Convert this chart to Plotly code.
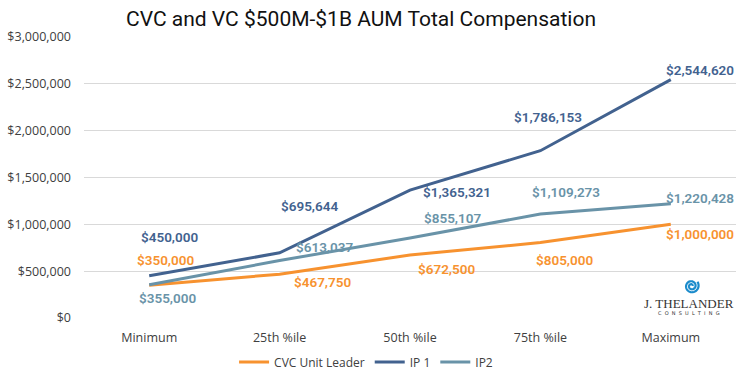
import numpy as np
import plotly.graph_objects as go

categories = ["Minimum", "25th %ile", "50th %ile", "75th %ile", "Maximum"]
cvc_unit_leader = [350000, 467750, 672500, 805000, 1000000]
ip1 = [450000, 695644, 1365321, 1786153, 2544620]
ip2 = [355000, 613037, 855107, 1109273, 1220428]
y_ticks = [0, 500000, 1000000, 1500000, 2000000, 2500000, 3000000]

# label offsets (pixels, screen: dx right, dy up)
cvc_off = [(16, 25), (43, -8), (36, -14), (24, -17), (29, -10)]
ip1_off = [(20, 39), (30, 47), (47, -2), (8, 34), (29, 10)]
ip2_off = [(18, -13), (45, 14), (42, 20), (26, 22), (29, 6)]

C_CVC = "#F7922F"
C_IP1 = "#42628F"
C_IP2 = "#6993A8"

W, H = 748, 374
L, R, T, B = 83.5, 11.5, 37, 56
pw, ph = W - L - R, H - T - B


def px_x(x):
    return (x - L) / pw


def px_y(y):
    return (H - B - y) / ph


fig = go.Figure()
series = [("CVC Unit Leader", cvc_unit_leader, C_CVC, cvc_off),
          ("IP 1", ip1, C_IP1, ip1_off),
          ("IP2", ip2, C_IP2, ip2_off)]
for name, vals, col, _ in series:
    fig.add_trace(go.Scatter(x=categories, y=vals, mode="lines", name=name,
                             line=dict(color=col, width=3)))

annotations = []
for name, vals, col, offs in series:
    for c, v, (dx, dy) in zip(categories, vals, offs):
        annotations.append(dict(x=c, y=v, xref="x", yref="y", text=f"${v:,.0f}",
                                showarrow=False, xshift=dx, yshift=dy,
                                font=dict(family="Roboto", size=13.5, color=col, weight=600)))

# logo text
annotations.append(dict(x=px_x(689), y=px_y(303), xref="paper", yref="paper", text="J. THELANDER",
                        xanchor="center", yanchor="middle",
                        showarrow=False, font=dict(family="Liberation Serif", size=13, color="#333333")))
annotations.append(dict(x=px_x(689), y=px_y(313), xref="paper", yref="paper",
                        text="C  O  N  S  U  L  T  I  N  G", xanchor="center", yanchor="middle",
                        showarrow=False, font=dict(family="DejaVu Sans", size=5, color="#333333")))

# spiral logo as path
t = np.linspace(0, 4.2 * np.pi, 80)
r = 1.0 + 1.5 * t / np.pi
xs = r * np.cos(t)
ys = r * np.sin(t)
path = "M " + " L ".join(f"{x:.2f},{y:.2f}" for x, y in zip(xs, ys))
shapes = [dict(type="path", path=path, xref="paper", yref="paper",
               xsizemode="pixel", ysizemode="pixel",
               xanchor=px_x(692), yanchor=px_y(286),
               line=dict(color="#1B8BCB", width=2.2))]

fig.update_layout(
    width=W, height=H,
    margin=dict(l=L, r=R, t=T, b=B, autoexpand=False),
    paper_bgcolor="white", plot_bgcolor="white",
    title=dict(text="CVC and VC $500M-$1B AUM Total Compensation",
               x=361 / W, xanchor="center", y=1 - 19 / H, yanchor="middle",
               font=dict(family="Roboto", size=21, color="#111111")),
    xaxis=dict(type="category", range=[-0.5, 4.5], showgrid=False, zeroline=False,
               showline=False, ticks="", ticklabelstandoff=10, automargin=False,
               tickfont=dict(family="Open Sans", size=12.5, color="#404040")),
    yaxis=dict(range=[0, 3000000], tickvals=y_ticks,
               ticktext=[f"${v:,.0f}" for v in y_ticks],
               showgrid=True, gridcolor="#D9D9D9", gridwidth=1, zeroline=False,
               showline=False, ticks="", ticklabelstandoff=12, automargin=False,
               tickfont=dict(family="Open Sans", size=12.5, color="#404040")),
    legend=dict(orientation="h", x=px_x(366), xanchor="center",
                y=px_y(362), yanchor="middle",
                font=dict(family="Open Sans", size=12, color="#404040"),
                itemwidth=30),
    annotations=annotations,
    shapes=shapes,
    showlegend=True,
)

fig.write_html("out.html", config={"displayModeBar": False},
               post_script="document.body.style.margin='0';document.body.style.overflow='hidden';")
